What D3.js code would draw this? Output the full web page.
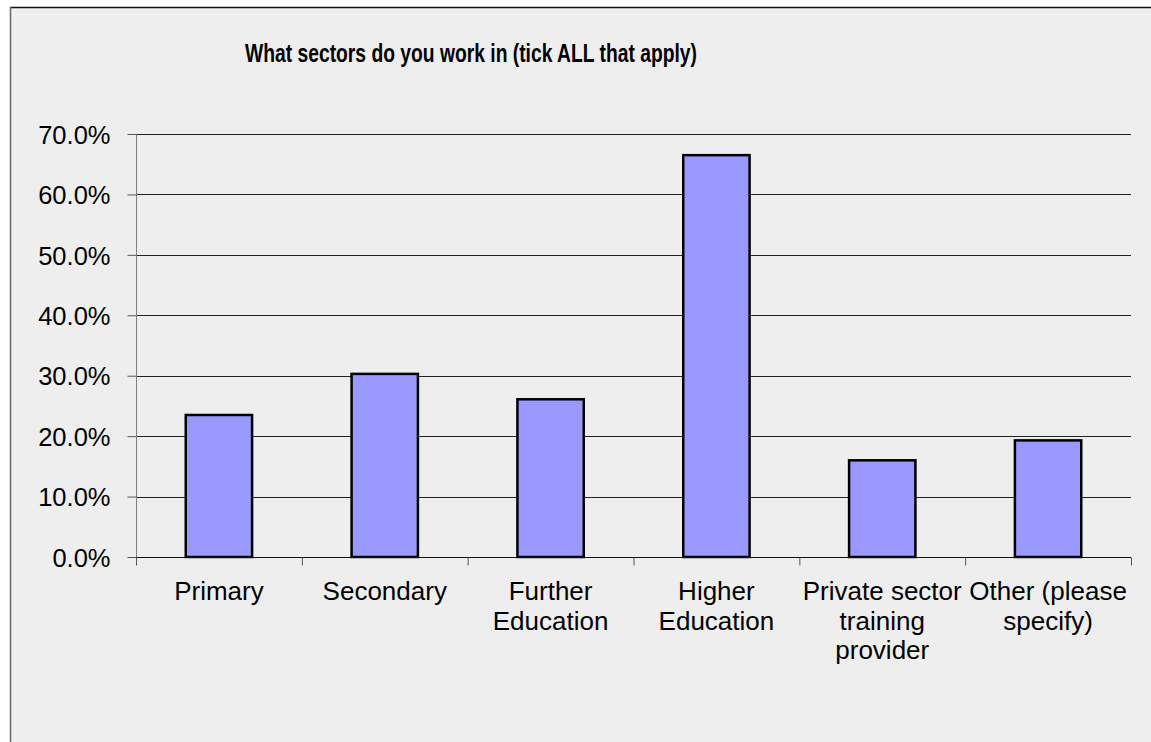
<!DOCTYPE html>
<html><head><meta charset="utf-8">
<script src="https://cdn.jsdelivr.net/npm/d3@7"></script>
<style>
html,body{margin:0;padding:0;background:#fff;}
svg{display:block;}
text{font-family:"Liberation Sans",Arial,sans-serif;fill:#000;}
</style></head>
<body>
<svg id="chart" width="1151" height="742"></svg>
<script>
const categories = ["Primary","Secondary","Further Education","Higher Education","Private sector training provider","Other (please specify)"];
const values = [0.235, 0.303, 0.261, 0.665, 0.160, 0.193];
const yTicks = [0,0.1,0.2,0.3,0.4,0.5,0.6,0.7];
const title = "What sectors do you work in (tick ALL that apply)";

(function(){
const svg = d3.select("#chart");
const W = 1151, H = 742;
// frame
svg.append("rect").attr("x",10).attr("y",7).attr("width",W-10).attr("height",H-7).attr("fill","#eeeeee");
svg.append("line").attr("x1",10).attr("x2",W).attr("y1",7.5).attr("y2",7.5).attr("stroke","#111").attr("stroke-width",1.5);
svg.append("line").attr("x1",10.5).attr("x2",10.5).attr("y1",7).attr("y2",H).attr("stroke","#666").attr("stroke-width",1.5);

const pLeft = 136, pRight = 1131, pTop = 134, pBottom = 557;
const x = d3.scaleBand().domain(categories).range([pLeft,pRight]).padding(0);
const xb = d3.scaleBand().domain(categories).range([pLeft,pRight]).paddingInner(0.6).paddingOuter(0.3);
const y = d3.scaleLinear().domain([0,0.7]).range([pBottom,pTop]);

// gridlines
svg.append("g").selectAll("line").data(yTicks.filter(d=>d>0)).join("line")
  .attr("x1",pLeft).attr("x2",pRight)
  .attr("y1",d=>Math.round(y(d))+0.5).attr("y2",d=>Math.round(y(d))+0.5)
  .attr("stroke","#222").attr("stroke-width",1);

// y axis
const yAxis = svg.append("g").attr("transform",`translate(${pLeft+0.5},0)`)
  .call(d3.axisLeft(y).tickValues(yTicks).tickFormat(d3.format(".1%")).tickSize(9).tickPadding(17));
yAxis.select(".domain").attr("stroke","#808080").attr("d",`M0,${pTop}V${pBottom+8}`);
yAxis.selectAll(".tick line").attr("stroke","#555");
yAxis.selectAll(".tick text").attr("font-size",25.5).attr("font-family","Liberation Sans, Arial, sans-serif").attr("fill","#000").attr("dy","0.36em");

// bars
svg.append("g").selectAll("rect").data(values).join("rect")
  .attr("x",(d,i)=>xb(categories[i]))
  .attr("width",xb.bandwidth())
  .attr("y",d=>y(d))
  .attr("height",d=>pBottom-y(d))
  .attr("fill","#9999ff").attr("stroke","#000").attr("stroke-width",2.5);

// x axis
const xAxis = svg.append("g").attr("transform",`translate(0,${pBottom+0.5})`);
xAxis.append("line").attr("x1",pLeft).attr("x2",pRight).attr("stroke","#111").attr("stroke-width",1.2);
const bounds = categories.map(c=>x(c)).concat([pRight]);
xAxis.selectAll("line.tk").data(bounds).join("line").attr("class","tk")
  .attr("x1",d=>d+0.5).attr("x2",d=>d+0.5).attr("y1",0).attr("y2",8).attr("stroke","#555");

// labels with wrapping
const measure = svg.append("text").attr("font-size",26).attr("visibility","hidden");
function wrap(str, maxW){
  const words = str.split(" "); const lines=[]; let cur="";
  for(const w of words){
    const t = cur? cur+" "+w : w;
    measure.text(t);
    if(measure.node().getComputedTextLength()>maxW && cur){ lines.push(cur); cur=w; } else cur=t;
  }
  if(cur) lines.push(cur);
  return lines;
}
categories.forEach(c=>{
  const lines = wrap(c, x.bandwidth()-2);
  const t = svg.append("text").attr("font-size",26).attr("text-anchor","middle")
    .attr("x",x(c)+x.bandwidth()/2).attr("y",pBottom+43);
  lines.forEach((l,i)=>t.append("tspan").attr("x",x(c)+x.bandwidth()/2).attr("dy",i?29.5:0).text(l));
});
measure.remove();

// title
svg.append("text").attr("x",245).attr("y",62).attr("font-size",25.5).attr("font-weight","bold")
  .attr("textLength",452).attr("lengthAdjust","spacingAndGlyphs").text(title);
})();
</script>
</body></html>
